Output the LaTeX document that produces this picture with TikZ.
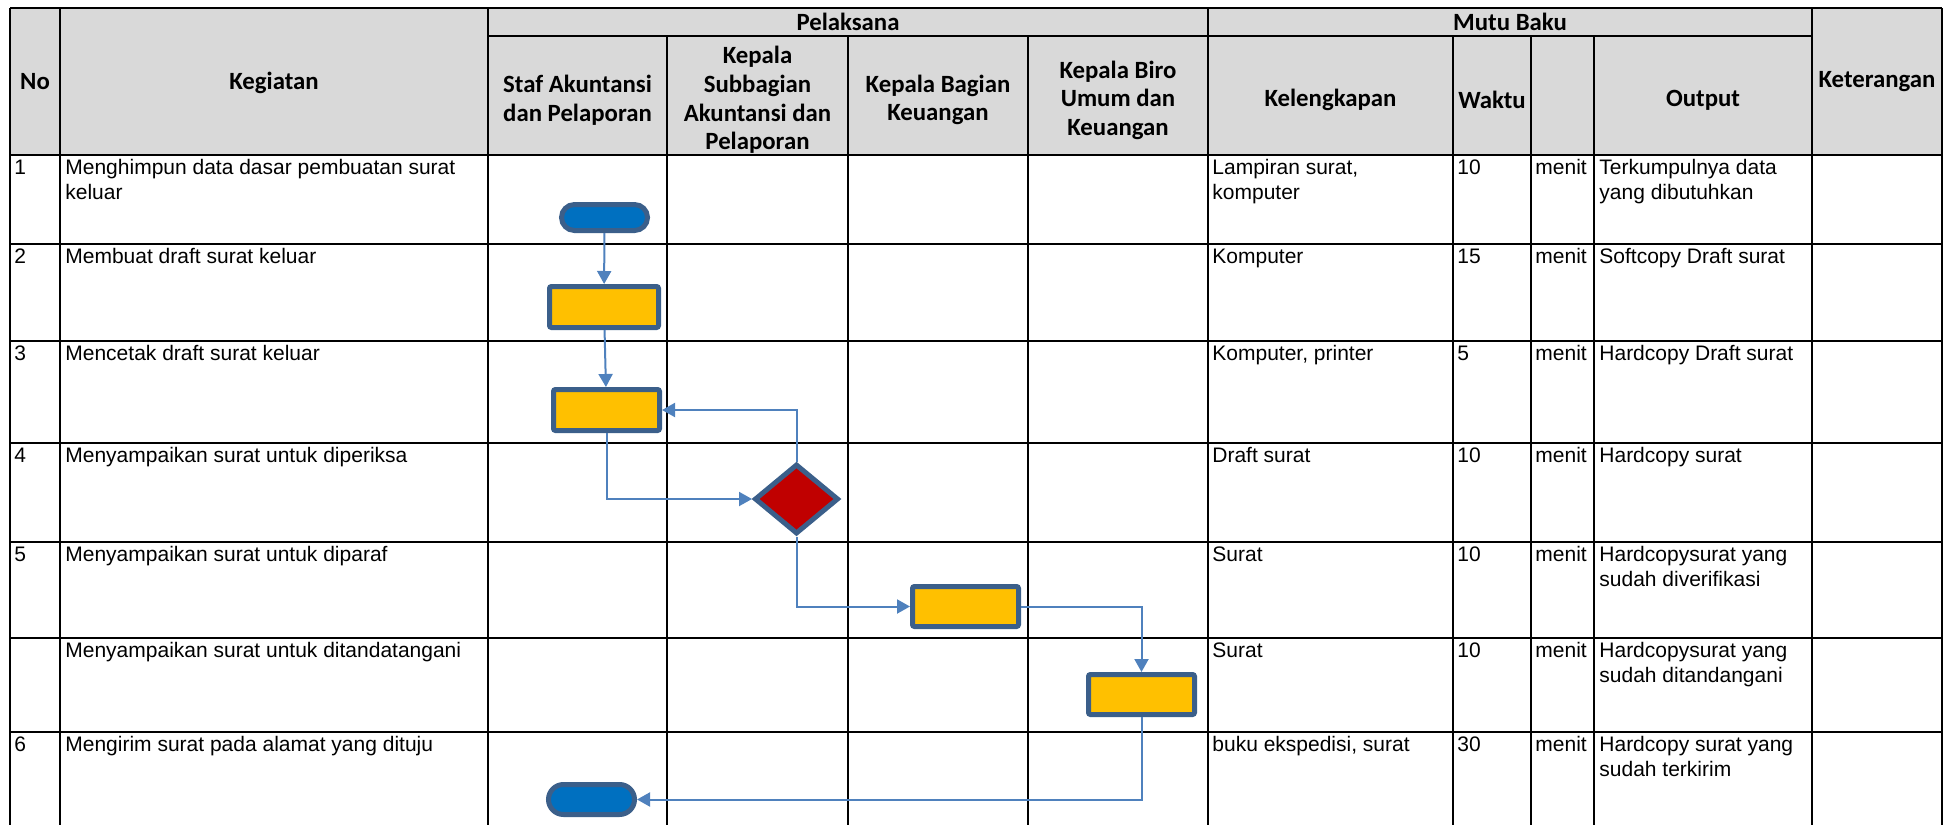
\documentclass[tikz,border=0pt]{standalone}
\usepackage{fontspec}
\setmainfont{Liberation Sans}
\newfontfamily\hdrfont{Carlito}
\usetikzlibrary{arrows.meta,shapes.geometric,shapes.misc}

\definecolor{hdrgray}{HTML}{D9D9D9}
\definecolor{edgeblue}{HTML}{3B5F8A}
\definecolor{termblue}{HTML}{0070C0}
\definecolor{procgold}{HTML}{FFC000}
\definecolor{decred}{HTML}{C00000}
\definecolor{flowblue}{HTML}{4F81BD}

\tikzset{
  hdr/.style={align=center, inner sep=0pt,
    font=\hdrfont\bfseries\fontsize{12.4}{14.3}\selectfont},
  cell/.style={anchor=north west, align=left, inner sep=0pt,
    font=\fontsize{10.5}{12.5}\selectfont},
  term/.style={rounded rectangle, draw=edgeblue, fill=termblue, line width=2.5pt,
    minimum width=43pt, minimum height=14pt, inner sep=0pt},
  proc/.style={rectangle, rounded corners=1pt, draw=edgeblue, fill=procgold,
    line width=2.5pt, minimum width=53pt, minimum height=20.5pt, inner sep=0pt},
  dec/.style={diamond, draw=edgeblue, fill=decred, line width=2.5pt,
    minimum width=42pt, minimum height=35pt, inner sep=0pt},
  flow/.style={draw=flowblue, line width=1pt, -{Triangle[length=6.5pt,width=7pt]}},
}

\begin{document}
\begin{tikzpicture}[x=0.5pt, y=-0.5pt]
  \useasboundingbox (0,0) rectangle (1956,825);
  % header band
  \fill[hdrgray] (10,8) rectangle (1942,155);
  % grid lines
  \begin{scope}[line width=1pt]
    \foreach \cx in {10,60,488,1208,1812,1942}
      \draw (\cx,8) -- (\cx,825);
    \foreach \cx in {667,848,1028,1453,1531,1594}
      \draw (\cx,36) -- (\cx,825);
    \draw (488,36) -- (1812,36);
    \foreach \ry in {8,155,244,341,443,542,638,732}
      \draw (10,\ry) -- (1942,\ry);
  \end{scope}

  % header texts
  \node[hdr] (h-no)     at (35,81.5)    {No};
  \node[hdr] (h-keg)    at (274,82.5)   {Kegiatan};
  \node[hdr] (h-pel)    at (848,22)     {Pelaksana};
  \node[hdr] (h-staf)   at (577.5,100)  {Staf Akuntansi\\dan Pelaporan};
  \node[hdr] (h-subbag) at (757.5,100)  {Kepala\\Subbagian\\Akuntansi dan\\Pelaporan};
  \node[hdr] (h-bagian) at (938,100)    {Kepala Bagian\\Keuangan};
  \node[hdr] (h-biro)   at (1118,100)   {Kepala Biro\\Umum dan\\Keuangan};
  \node[hdr] (h-mutu)   at (1510,22)    {Mutu Baku};
  \node[hdr] (h-kel)    at (1330.5,100) {Kelengkapan};
  \node[hdr] (h-waktu)  at (1492,100)   {Waktu};
  \node[hdr] (h-output) at (1703,100)   {Output};
  \node[hdr] (h-ket)    at (1877,81.5)  {Keterangan};

  % table rows
  \foreach \ry/\no/\keg/\kel/\wkt/\outp in {
    155/1/{Menghimpun data dasar pembuatan surat\\keluar}/{Lampiran surat,\\komputer}/10/{Terkumpulnya data\\yang dibutuhkan},
    244/2/{Membuat draft surat keluar}/{Komputer}/15/{Softcopy Draft surat},
    341/3/{Mencetak draft surat keluar}/{Komputer, printer}/5/{Hardcopy Draft surat},
    443/4/{Menyampaikan surat untuk diperiksa}/{Draft surat}/10/{Hardcopy surat},
    542/5/{Menyampaikan surat untuk diparaf}/{Surat}/10/{Hardcopysurat yang\\sudah diverifikasi},
    638/{}/{Menyampaikan surat untuk ditandatangani}/{Surat}/10/{Hardcopysurat yang\\sudah ditandangani},
    732/6/{Mengirim surat pada alamat yang dituju}/{buku ekspedisi, surat}/30/{Hardcopy surat yang\\sudah terkirim}}
  {
    \node[cell] (no-\ry)  at (14,\ry+2)   {\strut\no};
    \node[cell] (keg-\ry) at (65,\ry+2)   {\strut\keg};
    \node[cell] (kel-\ry) at (1212,\ry+2) {\strut\kel};
    \node[cell] (wkt-\ry) at (1457,\ry+2) {\strut\wkt};
    \node[cell] (mnt-\ry) at (1535,\ry+2) {\strut menit};
    \node[cell] (out-\ry) at (1599,\ry+2) {\strut\outp};
  }

  % flowchart
  \node[term, minimum height=13pt] (start) at (604.5,217.5) {};
  \node[proc, minimum width=54.5pt] (draft) at (604,307) {};
  \node[proc] (cetak) at (606.5,410) {};
  \node[dec] (periksa) at (796.5,499) {};
  \node[proc, minimum height=20pt] (paraf) at (965.5,606.5) {};
  \node[proc, minimum height=20pt] (ttd) at (1141.5,694.5) {};
  \node[term, minimum height=15pt] (stop) at (591.5,799.5) {};

  \draw[flow] (start) -- (draft);
  \draw[flow] (draft) -- (cetak);
  \draw[flow] (cetak.south) |- (periksa.west);
  \draw[flow] (periksa.north) |- (cetak.east);
  \draw[flow] (periksa.south) |- (paraf.west);
  \draw[flow] (paraf.east) -| (ttd.north);
  \draw[flow] (ttd.south) |- (stop.east);
\end{tikzpicture}
\end{document}
